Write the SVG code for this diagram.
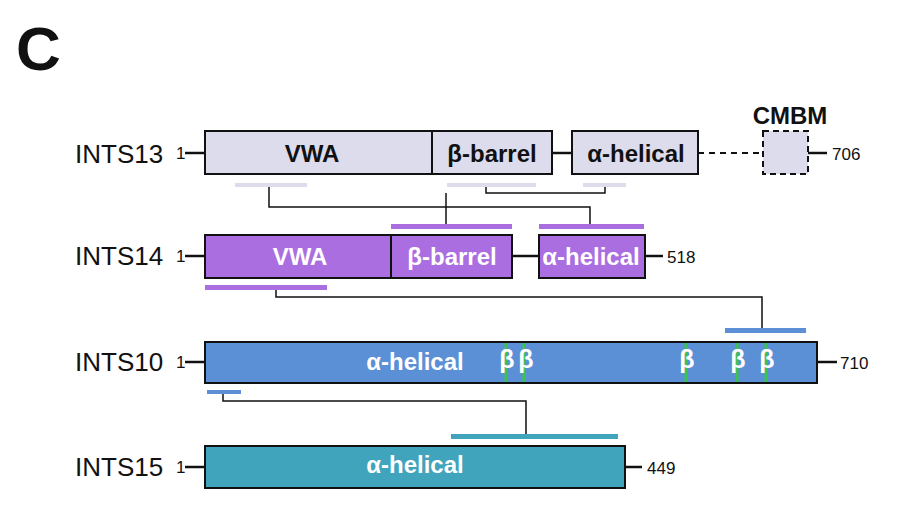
<svg xmlns="http://www.w3.org/2000/svg" width="917" height="525" viewBox="0 0 917 525">
<style>
text{font-family:"Liberation Sans",Arial,sans-serif;}
.lab{font-size:26px;fill:#111;}
.num{font-size:17px;fill:#111;}
.dom{font-size:24px;font-weight:bold;text-anchor:middle;}
.dk{fill:#111;}
.wh{fill:#fff;}
.box{stroke:#111;stroke-width:2;}
.tick{stroke:#111;stroke-width:2.5;fill:none;}
.conn{stroke:#111;stroke-width:1.5;fill:none;}
.beta{stroke:#3cc24e;stroke-width:3;}
.b13{fill:#dcdced;}
.b14{fill:#aa6ee0;}
.b10{fill:#5b8fd6;}
.b15{fill:#3fa4bc;}
</style>
<text x="16" y="70" style="font-size:62px;font-weight:bold;fill:#111">C</text>

<g id="INTS13">
<text class="lab" x="75" y="163">INTS13</text>
<text class="num" x="176" y="159">1</text>
<line class="tick" x1="185" y1="153" x2="205" y2="153"/>
<rect class="box b13" x="205" y="131" width="227" height="43"/>
<rect class="box b13" x="432" y="131" width="120" height="43"/>
<line class="tick" x1="552" y1="153" x2="572" y2="153"/>
<rect class="box b13" x="572" y="131" width="126" height="43"/>
<line x1="698" y1="153" x2="763" y2="153" stroke="#111" stroke-width="2" stroke-dasharray="6,5"/>
<rect class="b13" x="763" y="131" width="45" height="43" stroke="#111" stroke-width="2" stroke-dasharray="6,4"/>
<line class="tick" x1="808" y1="153" x2="827" y2="153"/>
<text class="num" x="832" y="160">706</text>
<text class="dom dk" x="790" y="124">CMBM</text>
<text class="dom dk" x="312" y="162">VWA</text>
<text class="dom dk" x="492" y="162">β-barrel</text>
<text class="dom dk" x="636" y="162">α-helical</text>
<rect class="b13" x="235" y="183" width="72" height="4"/>
<rect class="b13" x="447" y="183" width="89" height="4"/>
<rect class="b13" x="583" y="183" width="43" height="4"/>
</g>

<g id="INTS14">
<text class="lab" x="75" y="265">INTS14</text>
<text class="num" x="176" y="262">1</text>
<line class="tick" x1="185" y1="256" x2="205" y2="256"/>
<rect class="box b14" x="205" y="235" width="186" height="43"/>
<rect class="box b14" x="391" y="235" width="121" height="43"/>
<line class="tick" x1="512" y1="256" x2="539" y2="256"/>
<rect class="box b14" x="539" y="235" width="106" height="43"/>
<line class="tick" x1="645" y1="256" x2="663" y2="256"/>
<text class="num" x="667" y="263">518</text>
<text class="dom wh" x="300" y="265">VWA</text>
<text class="dom wh" x="452" y="265">β-barrel</text>
<text class="dom wh" x="591" y="265">α-helical</text>
<rect class="b14" x="391" y="224" width="121" height="5"/>
<rect class="b14" x="539" y="224" width="105" height="5"/>
<rect class="b14" x="205" y="285" width="122" height="5"/>
</g>

<g id="INTS10">
<text class="lab" x="75" y="371">INTS10</text>
<text class="num" x="176" y="368">1</text>
<line class="tick" x1="185" y1="362" x2="205" y2="362"/>
<rect class="box b10" x="205" y="342" width="612" height="41"/>
<line class="tick" x1="817" y1="362" x2="837" y2="362"/>
<text class="num" x="840" y="369">710</text>
<text class="dom wh" x="415" y="370">α-helical</text>
<line class="beta" x1="506" y1="343" x2="506" y2="382"/>
<line class="beta" x1="524" y1="343" x2="524" y2="382"/>
<line class="beta" x1="686" y1="343" x2="686" y2="382"/>
<line class="beta" x1="737" y1="343" x2="737" y2="382"/>
<line class="beta" x1="766" y1="343" x2="766" y2="382"/>
<g class="dom wh" style="font-size:25px">
<text x="507" y="368">β</text>
<text x="526" y="368">β</text>
<text x="687" y="368">β</text>
<text x="738" y="368">β</text>
<text x="767" y="368">β</text>
</g>
<rect class="b10" x="725" y="328" width="81" height="5"/>
<rect class="b10" x="207" y="390" width="34" height="4"/>
</g>

<g id="INTS15">
<text class="lab" x="75" y="476">INTS15</text>
<text class="num" x="176" y="473">1</text>
<line class="tick" x1="185" y1="467" x2="205" y2="467"/>
<rect class="box b15" x="205" y="446" width="420" height="42"/>
<line class="tick" x1="625" y1="467" x2="642" y2="467"/>
<text class="num" x="647" y="474">449</text>
<text class="dom wh" x="415" y="473">α-helical</text>
<rect class="b15" x="451" y="434" width="167" height="5"/>
</g>

<g id="connectors">
<polyline class="conn" points="269,187 269,207 590,207 590,224"/>
<polyline class="conn" points="486,187 486,193 605,193 605,187"/>
<polyline class="conn" points="446,193 446,224"/>
<polyline class="conn" points="276,290 276,297 762,297 762,328"/>
<polyline class="conn" points="223,394 223,401 526,401 526,434"/>
</g>
</svg>
